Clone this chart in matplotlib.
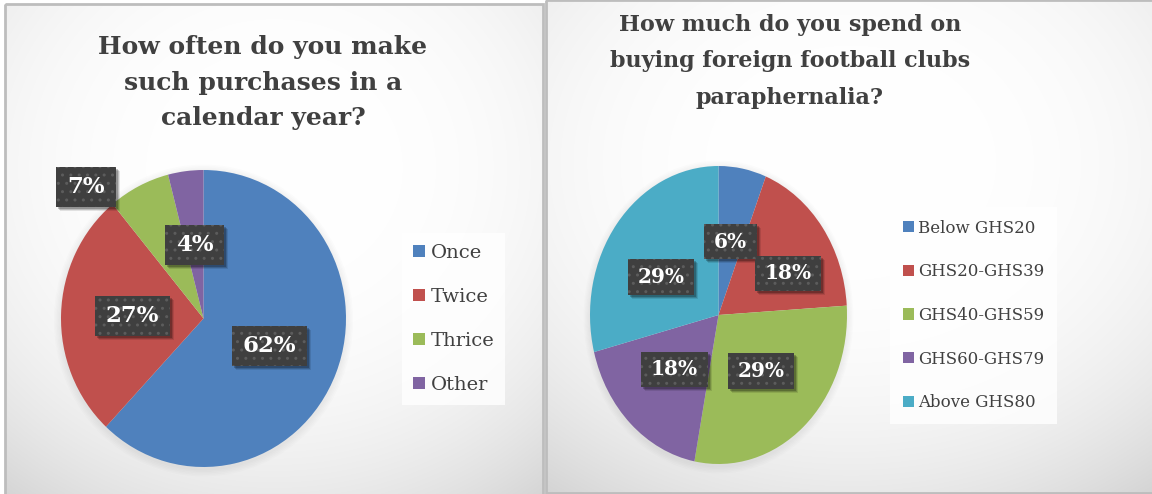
import numpy as np
import matplotlib
matplotlib.use("Agg")
import matplotlib.pyplot as plt
from matplotlib.patches import Rectangle, Ellipse
from matplotlib.path import Path
from matplotlib import transforms

# ---- data ----
freq_labels = ["Once", "Twice", "Thrice", "Other"]
freq_values = [62, 27, 7, 4]

spend_labels = ["Below GHS20", "GHS20-GHS39", "GHS40-GHS59", "GHS60-GHS79", "Above GHS80"]
spend_values = [6, 18, 29, 18, 29]

freq_title = "How often do you make\nsuch purchases in a\ncalendar year?"
spend_title = "How much do you spend on\nbuying foreign football clubs\nparaphernalia?"

# ---- style ----
W, H = 1152, 494
DPI = 100
palette = ["#4F81BD", "#C0504D", "#9BBB59", "#8064A2", "#4BACC6"]
text_dark = "#404040"
SERIF = "DejaVu Serif"

fig = plt.figure(figsize=(W / DPI, H / DPI), dpi=DPI)
fig.patch.set_facecolor("white")


def fx(x):
    return x / W


def fy(y):
    return 1 - y / H


def px_axes(x0, y0, x1, y1, **kw):
    """Axes placed by pixel box (top-left origin)."""
    return fig.add_axes([fx(x0), fy(y1), (x1 - x0) / W, (y1 - y0) / H], **kw)


# ---- panel backgrounds (radial grey gradient) ----
bg = fig.add_axes([0, 0, 1, 1], zorder=0)
bg.set_xlim(0, W)
bg.set_ylim(H, 0)
bg.axis("off")


def panel(x0, y0, x1, y1):
    nx, ny = int(x1 - x0), int(y1 - y0)
    xx, yy = np.meshgrid(np.linspace(0, 1, nx), np.linspace(0, 1, ny))
    d = np.sqrt((xx - 0.5) ** 2 + (yy - 0.33) ** 2)
    v = 1.0 - 0.16 * np.clip(d / 0.82, 0, 1.3) ** 3.0
    img = np.dstack([v, v, v])
    bg.imshow(img, extent=(x0, x1, y1, y0), interpolation="bilinear", zorder=0)
    bg.add_patch(Rectangle((x0, y0), x1 - x0, y1 - y0, fill=False,
                           ec="#bdbdbd", lw=2.0, zorder=1))


panel(4.5, 4.5, 543, 500)
panel(546, 0.5, 1156, 493)


# ---- data label box: wider horizontal padding than vertical ----
def label_box(x0, y0, width, height, mutation_size):
    px_ = 0.48 * mutation_size
    py_ = 0.38 * mutation_size
    x0, y0 = x0 - px_, y0 - py_
    x1, y1 = x0 + width + 2 * px_, y0 + height + 2 * py_
    return Path([(x0, y0), (x1, y0), (x1, y1), (x0, y1), (x0, y0)], closed=True)


all_labels = []


def pie_panel(ax, values, fs, overrides):
    wedges, _ = ax.pie(values, colors=palette[:len(values)], startangle=90,
                       counterclock=False, radius=1.0,
                       wedgeprops=dict(linewidth=0, edgecolor="none"))
    ax.set_xlim(-1, 1)
    ax.set_ylim(-1, 1)
    ax.set_aspect("auto")
    ax.axis("off")
    total = float(sum(values))
    for i, (w, v) in enumerate(zip(wedges, values)):
        if i in overrides:
            lx, ly = overrides[i]
        else:
            ang = np.deg2rad((w.theta1 + w.theta2) / 2)
            lx, ly = 0.5 * np.cos(ang), 0.5 * np.sin(ang)
        txt = f"{round(100 * v / total):d}%"
        t = ax.text(lx, ly, txt, ha="center", va="center", fontsize=fs,
                    fontweight="bold", family=SERIF, color="white",
                    bbox=dict(boxstyle=label_box, fc="#3f3f3f", ec="#5c5c5c",
                              lw=0, hatch=".."),
                    zorder=6)
        all_labels.append((ax, t))
    return wedges


def pie_shadow(cx, cy, rx, ry):
    for k in range(5):
        g = 1 + 0.01 * (k + 1)
        bg.add_patch(Ellipse((cx, cy + 2), 2 * rx * g, 2 * ry * g,
                             fc=(0, 0, 0, 0.012), ec="none", zorder=2))


# ---- left chart ----
pie_shadow(203.5, 318.5, 142.5, 148.5)
axL = px_axes(61, 170, 346, 467, zorder=3)
wl = pie_panel(axL, freq_values, 16.5, {2: (-0.825, 0.886)})

fig.text(fx(263), fy(82.5), freq_title, ha="center", va="center",
         multialignment="center", fontsize=18, fontweight="bold",
         family=SERIF, color=text_dark, linespacing=1.63, zorder=10)

legL = fig.legend(wl, freq_labels, loc="upper left",
                  bbox_to_anchor=(fx(402), fy(233)), bbox_transform=fig.transFigure,
                  prop=dict(family=SERIF, size=14), labelcolor=text_dark,
                  frameon=True, fancybox=False, borderpad=0.55, borderaxespad=0,
                  handlelength=0.62, handleheight=0.62, handletextpad=0.3,
                  labelspacing=1.34)
legL.get_frame().set_facecolor((1, 1, 1, 0.45))
legL.get_frame().set_edgecolor("none")

# ---- right chart ----
pie_shadow(718.5, 315, 128.5, 149)
axR = px_axes(590, 166, 847, 464, zorder=3)
wr = pie_panel(axR, spend_values, 14.5, {1: (0.54, 0.28), 4: (-0.447, 0.255)})

fig.text(fx(790), fy(61.5), spend_title, ha="center", va="center",
         multialignment="center", fontsize=16, fontweight="bold",
         family=SERIF, color=text_dark, linespacing=1.85, zorder=10)

legR = fig.legend(wr, spend_labels, loc="upper left",
                  bbox_to_anchor=(fx(890), fy(207)), bbox_transform=fig.transFigure,
                  prop=dict(family=SERIF, size=12), labelcolor=text_dark,
                  frameon=True, fancybox=False, borderpad=0.75, borderaxespad=0,
                  handlelength=0.66, handleheight=0.66, handletextpad=0.3,
                  labelspacing=1.6)
legR.get_frame().set_facecolor((1, 1, 1, 0.45))
legR.get_frame().set_edgecolor("none")

# ---- soft drop shadows behind the label boxes ----
fig.canvas.draw()
renderer = fig.canvas.get_renderer()
for ax, t in all_labels:
    bb = t.get_bbox_patch().get_window_extent(renderer)
    for dx, dy, a in [(4, -4, 0.10), (3, -3, 0.16), (2, -2, 0.22)]:
        ax.add_patch(Rectangle((bb.x0 + dx, bb.y0 + dy), bb.width, bb.height,
                               transform=transforms.IdentityTransform(),
                               fc=(0, 0, 0, a), ec="none", zorder=5, clip_on=False))

fig.savefig("out.png", dpi=DPI)
